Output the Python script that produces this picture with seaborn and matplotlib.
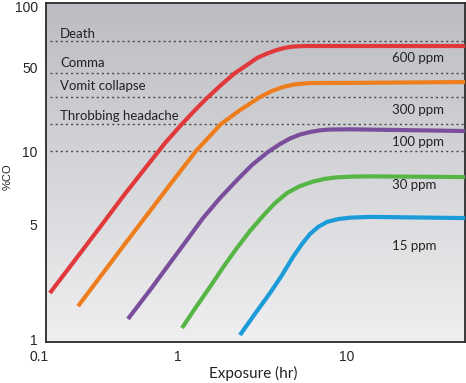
import numpy as np
import pandas as pd
import matplotlib
matplotlib.use('Agg')
import matplotlib.pyplot as plt
import matplotlib.transforms as mtransforms
import seaborn as sns

sns.set_style('white')
plt.rcParams['font.family'] = ['Liberation Sans', 'DejaVu Sans']

# exposure (hr) vs %CO, one pair per concentration
hr_600 = [0.107, 0.166, 0.257, 0.396, 0.614, 0.798, 1.056, 1.261, 1.484, 1.797,
          2.175, 2.526, 2.935, 3.363, 3.853, 4.297, 4.791, 5.643, 10.42, 50]
co_600 = [1.95, 3.06, 4.80, 6.65, 9.01, 11.66, 16.8, 21.9, 27.6, 35.4,
          44.6, 50.8, 55.4, 58.3, 60.7, 62.2, 63.1, 63.5, 63.5, 63.5]

hr_300 = [0.175, 0.257, 0.396, 0.614, 0.901, 1.278, 1.525, 1.797, 2.327, 3.056,
          3.599, 4.181, 4.924, 6.040, 10.42, 50]
co_300 = [1.63, 2.43, 3.81, 5.66, 7.45, 10.0, 13.08, 16.8, 21.9, 28.1,
          31.6, 34.1, 35.9, 36.8, 36.9, 37.5]

hr_100 = [0.418, 0.614, 0.870, 1.130, 1.406, 1.773, 2.234, 2.741, 3.409, 4.014,
          4.599, 5.27, 6.04, 6.92, 7.93, 10.42, 50]
co_100 = [1.37, 2.03, 2.94, 4.02, 5.29, 6.40, 7.59, 8.76, 9.91, 11.43,
          12.71, 13.72, 14.39, 14.87, 15.10, 15.16, 14.67]

hr_30 = [1.056, 1.278, 1.546, 1.872, 2.234, 2.667, 3.184, 3.749, 4.416, 5.27,
         6.29, 7.41, 8.73, 11.15, 13.68, 50]
co_30 = [1.21, 1.61, 2.12, 2.82, 3.61, 4.55, 5.40, 6.10, 6.71, 7.17,
         7.48, 7.68, 7.79, 7.85, 7.86, 7.81]

hr_15 = [2.327, 2.855, 3.503, 4.125, 4.791, 5.417, 6.04, 6.737, 7.615, 8.845,
         10.42, 13.68, 50]
co_15 = [1.10, 1.47, 1.95, 2.49, 3.19, 3.81, 4.36, 4.80, 5.10, 5.24,
         5.31, 5.35, 5.29]

series = ['600 ppm', '300 ppm', '100 ppm', '30 ppm', '15 ppm']
series_label_co = [55.4, 21.9, 11.9, 7.24, 3.7]
colors = ['#e1393b', '#ee7e1d', '#7b4e9c', '#57b546', '#1b9bd8']

# symptom thresholds (%CO)
levels = ['Death', 'Comma', 'Vomit collapse', 'Throbbing headache']
level_co = [67.2, 44.6, 28.1, 16.8]
level_text_co = [72.7, 52.3, 34.7, 19.55]

x_ticks = [0.1, 1, 10]
y_ticks = [1, 5, 10, 50, 100]

df = pd.concat([
    pd.DataFrame({'hr': h, 'co': c, 'ppm': s})
    for h, c, s in zip([hr_600, hr_300, hr_100, hr_30, hr_15],
                       [co_600, co_300, co_100, co_30, co_15], series)
])

# the original axes are only roughly logarithmic, so pin each labelled
# value to where it sits in the picture and go log-linear in between
def piecewise_log(values, positions):
    logs = np.log10(values)
    pos = np.asarray(positions, dtype=float)
    sl = (pos[1] - pos[0]) / (logs[1] - logs[0])
    sr = (pos[-1] - pos[-2]) / (logs[-1] - logs[-2])

    def fwd(v):
        l = np.log10(np.clip(np.asarray(v, dtype=float), 1e-9, None))
        p = np.interp(l, logs, pos)
        p = np.where(l < logs[0], pos[0] + (l - logs[0]) * sl, p)
        return np.where(l > logs[-1], pos[-1] + (l - logs[-1]) * sr, p)

    def inv(p):
        p = np.asarray(p, dtype=float)
        l = np.interp(p, pos, logs)
        l = np.where(p < pos[0], logs[0] + (p - pos[0]) / sl, l)
        l = np.where(p > pos[-1], logs[-1] + (p - pos[-1]) / sr, l)
        return 10 ** l

    return fwd, inv

fig = plt.figure(figsize=(4.66, 3.83), dpi=100)
ax = fig.add_axes([46 / 466, 41 / 383, 419 / 466, 339 / 383])

grad = np.linspace(0, 1, 256).reshape(-1, 1)
cmap = matplotlib.colors.LinearSegmentedColormap.from_list('bg', ['#bcbdc2', '#efeff1'])
ax.imshow(grad, cmap=cmap, extent=[0, 1, 0, 1], transform=ax.transAxes,
          aspect='auto', zorder=0, interpolation='bilinear')

sns.lineplot(data=df, x='hr', y='co', hue='ppm', hue_order=series,
             palette=colors, estimator=None, sort=False, legend=False,
             lw=3, solid_capstyle='butt', solid_joinstyle='round', ax=ax, zorder=3)

ax.set_xscale('function', functions=piecewise_log([0.1, 1, 10, 50], [0, 132, 301, 419]))
ax.set_yscale('function', functions=piecewise_log([1, 5, 10, 50, 100], [0, 118, 191, 275, 336]))
ax.set_xlim(0.1, 50)
ax.set_ylim(1, 103.5)

for v in level_co + [10]:
    ax.axhline(v, xmin=0.01, color='#4a4a4a', lw=1, ls=(0, (1.5, 2.2)), zorder=2)

for name, v in zip(levels, level_text_co):
    ax.text(0.128, v, name, fontsize=9.5, family='Lato', color='#222222', va='center')

for name, v in zip(series, series_label_co):
    ax.text(18.5, v, name, fontsize=9.5, family='Lato', color='#222222', va='center')

ax.set_xticks(x_ticks, ['0.1', '1', '10'])
ax.set_yticks(y_ticks, ['1', '5', '10', '50', '100'])
ax.minorticks_off()
ax.tick_params(direction='in', length=4, width=1.2, color='#222222',
               labelsize=10, pad=6)

# corner labels sit a little off their ticks in the original
lbl = ax.get_xticklabels()[0]
lbl.set_transform(lbl.get_transform() + mtransforms.ScaledTranslation(-5 / 72, 0, fig.dpi_scale_trans))
lbl = ax.get_yticklabels()[0]
lbl.set_transform(lbl.get_transform() + mtransforms.ScaledTranslation(0, 2 / 72, fig.dpi_scale_trans))

for sp in ax.spines.values():
    sp.set_color('#2a2a2a')
    sp.set_linewidth(1.3)

ax.set_xlabel('Exposure (hr)', fontsize=11, family='Lato', color='#222222')
ax.set_ylabel('%CO', fontsize=8, color='#222222')
ax.xaxis.set_label_coords(0.494, -0.072)
ax.yaxis.set_label_coords(-0.079, 0.487)

plt.savefig('out.png', dpi=100)
